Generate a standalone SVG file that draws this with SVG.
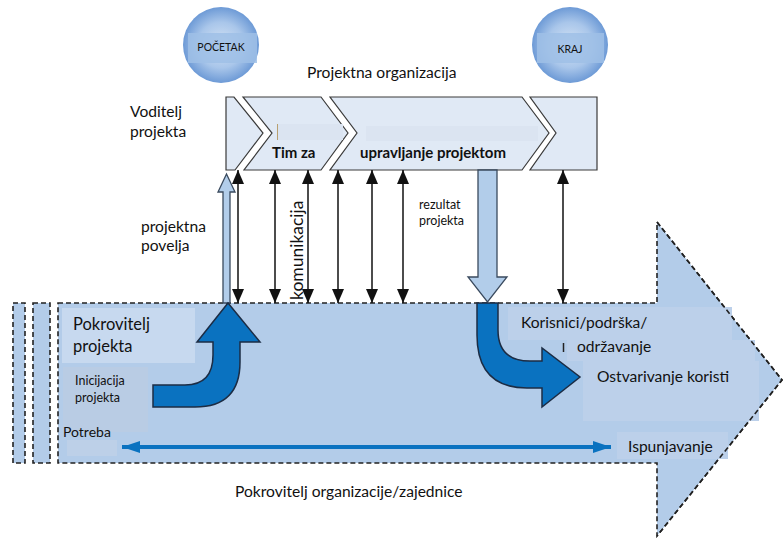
<svg xmlns="http://www.w3.org/2000/svg" width="784" height="538" viewBox="0 0 784 538">
<defs>
  <radialGradient id="ball" cx="50%" cy="50%" r="50%">
    <stop offset="0" stop-color="#d6e4f5"/>
    <stop offset="0.6" stop-color="#a9c6ea"/>
    <stop offset="1" stop-color="#6d9ad6"/>
  </radialGradient>
  <marker id="ah" viewBox="0 0 14 12" refX="14" refY="6" markerWidth="14" markerHeight="12" markerUnits="userSpaceOnUse" orient="auto-start-reverse">
    <path d="M0,0 L14,6 L0,12 Z" fill="#111"/>
  </marker>
  <marker id="bh" viewBox="0 0 18 12" refX="18" refY="6" markerWidth="18" markerHeight="12" markerUnits="userSpaceOnUse" orient="auto-start-reverse">
    <path d="M0,0 L18,6 L0,12 Z" fill="#0a72c0"/>
  </marker>
</defs>
<style>
  text { font-family: Lato, "Open Sans", "Liberation Sans", sans-serif; fill: #111; }
  .dash { fill: #b3cce9; stroke: #222; stroke-width: 1.6; stroke-dasharray: 5 3; }
  .chev { fill: #e0e9f5; stroke: #3a3a3a; stroke-width: 1.2; }
  .vline { stroke: #111; stroke-width: 1.5; fill: none; marker-start: url(#ah); marker-end: url(#ah); }
  .blue { fill: #0a72c0; stroke: #1c2c44; stroke-width: 1.5; stroke-linejoin: miter; }
  .lblue { fill: #b2cdea; stroke: #3a4a5e; stroke-width: 1.3; }
  .t15 { font-size: 15.6px; }
  .bold { font-weight: bold; font-size: 15px; }
</style>

<!-- big arrow background -->
<g id="big-arrow">
  <rect class="dash" x="13" y="303" width="12" height="160"/>
  <rect class="dash" x="33" y="303" width="17" height="160"/>
  <path class="dash" d="M58,303 L657,303 L657,222 L782,380 L657,536 L657,463 L58,463 Z"/>
  <rect x="62" y="308" width="133" height="55" fill="#c7d9ef"/>
  <rect x="63" y="367" width="85" height="65" fill="#b9cce4"/>
  <rect x="67" y="440" width="50" height="16" fill="#bdd0e8"/>
  <rect x="508" y="307" width="224" height="33" fill="#bcd0ea"/>
  <rect x="567" y="340" width="188" height="21" fill="#bcd0ea"/>
  <rect x="583" y="361" width="176" height="60" fill="#bcd0ea"/>
  <rect x="617" y="432" width="111" height="27" fill="#bcd0ea"/>
  <path d="M657,222 L782,380 L657,536" fill="none" stroke="#222" stroke-width="1.6" stroke-dasharray="5 3"/>
</g>

<!-- start / end balls -->
<g id="pocetak">
  <circle cx="221" cy="45" r="38" fill="url(#ball)"/>
  <rect x="188" y="33" width="69" height="30" fill="#9fbfe6" opacity="0.85"/>
  <text x="221" y="51" font-size="10.5" text-anchor="middle">POČETAK</text>
</g>
<g id="kraj">
  <circle cx="570" cy="45" r="38" fill="url(#ball)"/>
  <rect x="537" y="33" width="67" height="30" fill="#9fbfe6" opacity="0.85"/>
  <text x="570" y="53" font-size="10.5" text-anchor="middle">KRAJ</text>
</g>

<g id="labels-top">
  <text x="307" y="78" class="t15">Projektna organizacija</text>
  <text x="130" y="117" class="t15">Voditelj</text>
  <text x="130" y="137" class="t15">projekta</text>
</g>

<!-- chevron bar -->
<g id="chevrons">
  <path class="chev" d="M226,97 L234,97 L263,133 L235,170 L226,170 Z"/>
  <path class="chev" d="M243,97 L321,97 L348,133 L321,170 L244,170 L272,133 Z"/>
  <path class="chev" d="M330,97 L522,97 L549,133 L522,170 L330,170 L357,133 Z"/>
  <path class="chev" d="M530,97 L597,97 L597,170 L530,170 L556,133 Z"/>
  <rect x="277" y="124" width="66" height="16" fill="#dbe4f1"/>
  <rect x="366" y="126" width="172" height="15" fill="#dbe4f1"/>
  <line x1="277.5" y1="124" x2="277.5" y2="140" stroke="#b8a070" stroke-width="1"/>
  <text x="272" y="158" class="bold">Tim za</text>
  <text x="360" y="158" class="bold">upravljanje projektom</text>
</g>

<!-- connectors -->
<g id="connectors">
  <line class="vline" x1="238" y1="170" x2="238" y2="303"/>
  <line class="vline" x1="275" y1="170" x2="275" y2="303"/>
  <line class="vline" x1="308" y1="170" x2="308" y2="303"/>
  <line class="vline" x1="338" y1="170" x2="338" y2="303"/>
  <line class="vline" x1="372" y1="170" x2="372" y2="303"/>
  <line class="vline" x1="403" y1="170" x2="403" y2="303"/>
  <line class="vline" x1="563" y1="170" x2="563" y2="303"/>
  <!-- project charter arrow (up) -->
  <path class="lblue" d="M223,303 L223,192 L218,192 L226.5,174 L235,192 L230,192 L230,303 Z"/>
  <!-- project result arrow (down) -->
  <path class="lblue" d="M478,170 L497,170 L497,277 L507,277 L487.5,302 L468,277 L478,277 Z"/>
  <!-- curved arrows -->
  <path class="blue" d="M153,385 L185,385 Q213,385 213,355 L213,342 L197,342 L228,303 L260,342 L240,342 L240,362 Q240,407 195,407 L153,407 Z"/>
  <path class="blue" d="M477,303 L498,303 L498,330 Q498,361 530,361 L542,361 L542,348 L580,377 L542,407 L542,388 L527,388 Q477,388 477,335 Z"/>
  <!-- horizontal double arrow -->
  <line x1="122" y1="447" x2="611" y2="447" stroke="#0a72c0" stroke-width="4" marker-start="url(#bh)" marker-end="url(#bh)"/>
</g>

<g id="labels-middle">
  <text x="141" y="232" class="t15">projektna</text>
  <text x="141" y="251" class="t15">povelja</text>
  <text transform="translate(303,300) rotate(-90)" font-size="17.5">komunikacija</text>
  <text x="419" y="209" font-size="12.5">rezultat</text>
  <text x="419" y="225" font-size="12.5">projekta</text>
</g>

<g id="labels-body">
  <text x="73" y="330" font-size="16.5">Pokrovitelj</text>
  <text x="73" y="352" font-size="16.5">projekta</text>
  <text x="75" y="385" font-size="12.5">Inicijacija</text>
  <text x="75" y="402" font-size="12.5">projekta</text>
  <text x="63" y="437" font-size="14">Potreba</text>
  <text x="521" y="328" class="t15">Korisnici/podrška/</text>
  <line x1="563.5" y1="343" x2="563.5" y2="352" stroke="#222" stroke-width="1.5"/>
  <text x="577" y="352" class="t15">održavanje</text>
  <text x="597" y="382" class="t15">Ostvarivanje koristi</text>
  <text x="628" y="452" class="t15">Ispunjavanje</text>
  <text x="235" y="497" class="t15">Pokrovitelj organizacije/zajednice</text>
</g>
</svg>
